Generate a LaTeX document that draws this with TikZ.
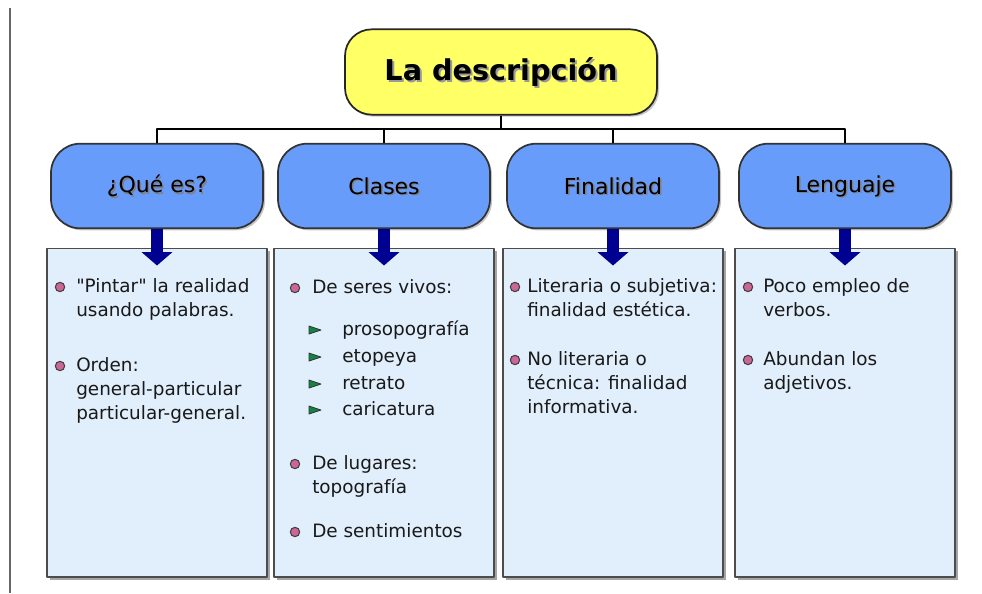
\documentclass[tikz,border=0pt]{standalone}
\usepackage{fontspec}
\setmainfont{DejaVu Sans}
\usepackage{tikz}
\usetikzlibrary{positioning,shadows,arrows.meta}

\definecolor{titleyellow}{RGB}{255,255,102}
\definecolor{headblue}{RGB}{104,156,250}
\definecolor{boxblue}{RGB}{225,238,252}
\definecolor{arrownavy}{RGB}{0,0,145}
\definecolor{dotpink}{RGB}{204,102,153}
\definecolor{trigreen}{RGB}{20,130,70}

\begin{document}
\begin{tikzpicture}[x=0.75pt,y=-0.75pt,line join=round]
	\tikzstyle{title box}=[draw=black!85,line width=1.3pt,fill=titleyellow,rounded corners=20pt,minimum width=234pt,minimum height=64pt,drop shadow={shadow xshift=1.5pt,shadow yshift=-1.5pt,fill=black!45}]
	\tikzstyle{head box}=[draw=black!80,line width=1.3pt,fill=headblue,rounded corners=22pt,minimum width=159pt,minimum height=63.5pt,drop shadow={shadow xshift=1.5pt,shadow yshift=-1.5pt,fill=black!45}]
	\tikzstyle{text box}=[draw=black!70,line width=1pt,fill=boxblue,minimum width=165pt,minimum height=246.5pt,drop shadow={shadow xshift=2.2pt,shadow yshift=-2.2pt,fill=black!70}]
	\tikzstyle{title text}=[font=\fontsize{21.5}{24}\selectfont\bfseries]
	\tikzstyle{head text}=[font=\fontsize{16.5}{19}\selectfont]
	\tikzstyle{item}=[inner sep=0pt,align=left,font=\fontsize{13.8}{18}\selectfont,text=black!90]
	\tikzstyle{dot}=[circle,draw=black!75,fill=dotpink,line width=0.8pt,minimum size=7pt,inner sep=0pt]
	\tikzstyle{tri}=[draw=black!80,fill=trigreen,line width=0.6pt]
	\tikzstyle{tree line}=[draw=black,line width=1.6pt]
	\tikzstyle{down arrow}=[draw=arrownavy,line width=9.5pt,-{Triangle[width=22.5pt,length=10pt]}]
	
	\useasboundingbox (0,0) rectangle (982,593);
	
	% Page edge on the left
	\draw[black!60,line width=2pt] (10,8) -- (10,593);
	
	% Draw the title
	\node[title box] (T) at (501,72) {};
	\node[title text,text=black!40] at (503,74) {La descripción};
	\node[title text] (T-text) at (501,72) {La descripción};
	
	% Draw the four headings
	\foreach \name/\x/\word in {H-1/157/¿Qué es?, H-2/384/Clases, H-3/613/Finalidad, H-4/845/Lenguaje}
	{
		\node[head box] (\name) at (\x,186) {};
		\node[head text,text=black!50] at (\x+1.5,187.5) {\word};
		\node[head text] (\name-text) at (\x,186) {\word};
	}
	
	% Connect the title with every heading
	\coordinate (fork) at (501,129);
	\path[tree line] (T.south) -- (fork);
	\foreach \dest in {1,...,4}
	\path[tree line] (fork) -| (H-\dest.north);
	
	% Draw the text boxes
	\foreach \name/\x in {B-1/157, B-2/384, B-3/613, B-4/845}
	\node[text box] (\name) at (\x,412.5) {};
	
	% Arrows from the headings into the boxes
	\foreach \i in {1,...,4}
	\draw[down arrow] (H-\i.south) -- ([yshift=-13.5pt]B-\i.north);
	
	% Bullet points
	\foreach \name/\x/\y in {Q-1/60/287, Q-2/60/366, C-1/295/288, C-2/295/464, C-3/295/532, F-1/515/287, F-2/515/360, L-1/748/287, L-2/748/360}
	\node[dot] (\name-dot) at (\x,\y) {};
	
	% Texts of the first column
	\node[item,anchor=north west] (Q-1) at (76,278) {\textquotedbl Pintar\textquotedbl{} la realidad\\usando palabras.};
	\node[item,anchor=north west] (Q-2) at (76,357) {Orden:\\general-particular\\particular-general.};
	
	% Texts of the second column
	\node[item,anchor=north west] (C-1) at (312,279) {De seres vivos:};
	\foreach \name/\y/\word in {S-1/330/prosopografía, S-2/357/etopeya, S-3/384/retrato, S-4/410/caricatura}
	{
		\draw[tri] (315,\y) +(-6,-4) -- +(6,0) -- +(-6,4) -- cycle;
		\node[item,anchor=base west] (\name) at (342,\y+5) {\word};
	}
	\node[item,anchor=north west] (C-2) at (312,455) {De lugares:\\topografía};
	\node[item,anchor=north west] (C-3) at (312,523) {De sentimientos};
	
	% Texts of the third column
	\node[item,anchor=north west] (F-1) at (527,278) {Literaria o subjetiva:\\finalidad estética.};
	\node[item,anchor=north west] (F-2) at (527,351) {No literaria o\\técnica: finalidad\\informativa.};
	
	% Texts of the fourth column
	\node[item,anchor=north west] (L-1) at (763,278) {Poco empleo de\\verbos.};
	\node[item,anchor=north west] (L-2) at (763,351) {Abundan los\\adjetivos.};
\end{tikzpicture}
\end{document}
